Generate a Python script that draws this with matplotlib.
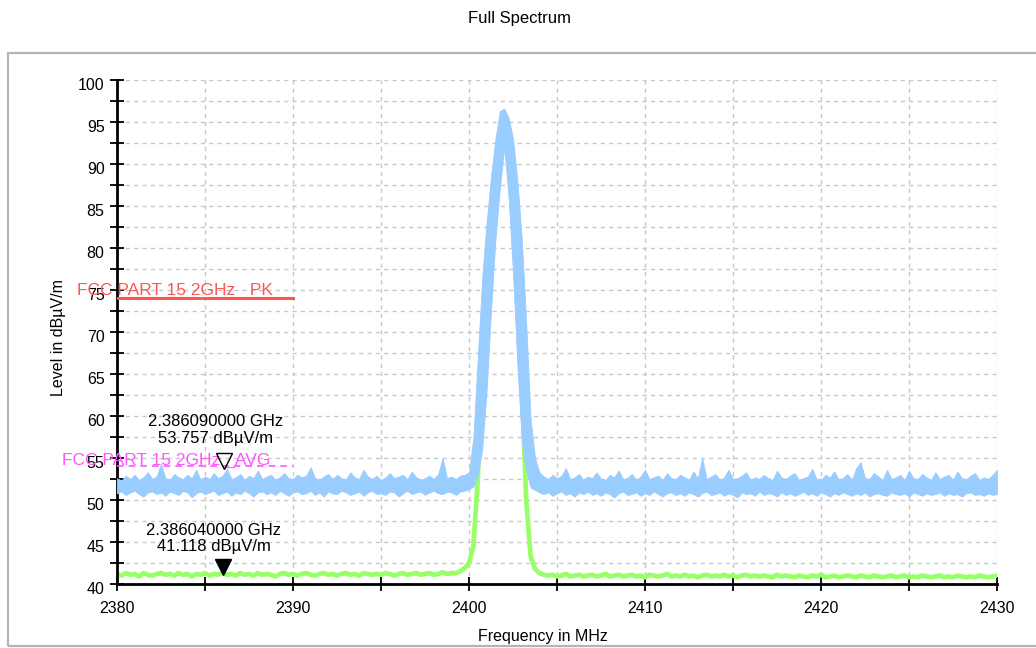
import matplotlib
matplotlib.use('Agg')
import matplotlib.pyplot as plt
import matplotlib.patches as patches
from matplotlib.ticker import MultipleLocator
from matplotlib.transforms import offset_copy, ScaledTranslation
import numpy as np

plt.rcParams['font.family'] = ['Liberation Sans', 'DejaVu Sans']

# peak detector trace (upper / lower edge of the noisy band), dBuV/m, 0.25 MHz steps
blue_hi = [
    52.6, 52.3, 52.9, 52.5, 53.0, 52.4, 52.7, 53.3, 52.5, 52.8,
    54.3, 52.6, 52.4, 53.1, 52.7, 52.5, 53.0, 52.6, 53.6, 52.4,
    52.8, 52.5, 53.2, 52.6, 52.9, 53.7, 52.5, 52.7, 53.1, 52.4,
    52.9, 52.6, 53.5, 52.5, 52.8, 53.0, 52.4, 52.7, 53.2, 52.6,
    52.5, 53.0, 52.7, 52.9, 53.9, 52.6, 52.4, 52.8, 53.1, 52.5,
    53.0, 52.6, 52.4, 53.3, 52.7, 52.5, 53.6, 52.8, 52.5, 52.9,
    52.4, 52.7, 53.2, 52.6, 52.8, 53.0, 52.5, 53.4, 52.7, 52.4,
    52.6, 52.9, 52.5, 53.1, 55.0, 52.6, 52.8, 52.5, 52.9, 53.0,
    53.3, 57.5, 67.0, 76.5, 83.0, 88.5, 93.0, 96.3, 96.6, 95.5,
    93.0, 88.0, 81.0, 71.0, 59.6, 55.0, 53.3,
    52.8, 52.5, 53.0, 52.6, 52.9, 53.8, 52.5, 52.7, 53.1, 52.4,
    52.8, 52.6, 53.3, 52.5, 52.4, 53.0, 52.7, 53.5, 52.5, 52.6,
    53.1, 52.4, 52.8, 53.6, 52.5, 52.7, 52.9, 52.4, 53.2, 52.6,
    52.5, 53.0, 52.7, 52.4, 53.4, 52.6, 55.0, 52.5, 52.8, 53.1,
    52.4, 52.7, 53.6, 52.5, 52.6, 52.9, 53.3, 52.4, 52.7, 52.5,
    53.0, 52.6, 52.4, 53.5, 52.7, 52.5, 52.9, 53.2, 52.4, 52.6,
    52.8, 53.7, 52.5, 52.4, 53.0, 52.7, 53.4, 52.5, 52.6, 53.1,
    52.4, 53.8, 54.5, 52.6, 52.5, 53.2, 52.8, 52.4, 53.6, 52.5,
    52.7, 53.0, 52.4, 53.5, 52.6, 52.5, 53.1, 52.7, 52.4, 53.3,
    52.5, 52.8, 53.0, 52.4, 53.4, 52.6, 52.5, 52.9, 53.2, 52.4,
    52.7, 52.5, 53.0, 53.6,
]
blue_lo = [
    50.8, 51.0, 50.6, 50.9, 51.1, 50.7, 50.4, 50.9, 51.0, 50.7,
    50.9, 50.5, 51.0, 50.8, 50.6, 51.1, 50.9, 50.3, 50.8, 51.0,
    50.7, 50.9, 51.1, 50.6, 50.8, 51.0, 50.5, 50.9, 50.7, 51.1,
    50.8, 50.4, 50.9, 51.0, 50.7, 50.9, 50.6, 51.1, 50.8, 50.5,
    50.9, 51.0, 50.7, 50.8, 51.1, 50.6, 50.9, 50.4, 51.0, 50.8,
    50.7, 51.1, 50.9, 50.6, 50.8, 51.0, 50.5, 50.9, 51.1, 50.7,
    50.8, 50.6, 51.0, 50.9, 50.4, 50.8, 51.1, 50.7, 50.9, 51.0,
    50.6, 50.9, 51.1, 50.8, 50.7, 51.0, 50.9, 50.6, 51.0, 51.1,
    51.3, 51.6, 53.0, 56.0, 63.0, 72.5, 81.0, 87.0, 92.0, 86.0,
    77.0, 66.0, 57.0, 53.5, 51.5, 51.2, 50.9,
    50.7, 50.9, 50.5, 50.8, 51.0, 50.6, 50.8, 50.4, 50.9, 50.7,
    51.0, 50.6, 50.8, 50.5, 50.9, 50.7, 50.3, 50.8, 51.0, 50.6,
    50.7, 50.9, 50.5, 50.8, 50.6, 51.0, 50.7, 50.4, 50.8, 50.9,
    50.6, 50.8, 50.5, 50.9, 50.7, 50.4, 50.8, 51.0, 50.6, 50.7,
    50.9, 50.5, 50.8, 50.6, 50.3, 50.9, 50.7, 50.8, 50.5, 51.0,
    50.6, 50.8, 50.7, 50.4, 50.9, 50.6, 50.8, 50.5, 50.7, 51.0,
    50.6, 50.8, 50.5, 50.9, 50.7, 50.4, 50.8, 50.6, 50.9, 50.7,
    50.5, 50.8, 50.6, 50.9, 50.4, 50.7, 50.8, 50.6, 50.5, 50.9,
    50.7, 50.6, 50.8, 50.4, 50.9, 50.7, 50.5, 50.8, 50.6, 50.7,
    50.9, 50.5, 50.8, 50.6, 50.7, 50.4, 50.8, 50.9, 50.6, 50.7,
    50.5, 50.8, 50.6, 50.7,
]
# average detector trace
green = [
    41.2, 41.0, 41.3, 41.1, 41.2, 40.9, 41.3, 41.1, 41.0, 41.2,
    41.3, 41.1, 41.2, 41.0, 41.3, 41.1, 41.2, 40.9, 41.2, 41.1,
    41.3, 41.0, 41.2, 41.1, 41.4, 41.1, 41.2, 41.0, 41.3, 41.1,
    41.2, 41.0, 41.3, 41.1, 41.2, 41.1, 40.9, 41.2, 41.3, 41.1,
    41.2, 41.0, 41.2, 41.3, 41.1, 41.0, 41.2, 41.3, 41.1, 41.2,
    41.0, 41.2, 41.3, 41.1, 41.2, 41.0, 41.3, 41.2, 41.1, 41.2,
    41.1, 41.3, 41.2, 41.0, 41.2, 41.3, 41.1, 41.2, 41.3, 41.1,
    41.2, 41.3, 41.1, 41.2, 41.4, 41.2, 41.3,
    41.3, 41.5, 41.9, 42.5, 44.5, 52.5, 65.0, 75.0, 83.0, 89.5,
    93.5, 94.3, 91.5, 86.0, 77.0, 64.0, 50.0, 43.3, 41.8, 41.3,
    41.1, 41.0, 41.1, 40.9, 41.0, 41.2, 40.9, 41.0, 41.1, 40.9,
    41.0, 41.1, 40.9, 41.0, 41.2, 40.9, 41.0, 41.1, 40.9, 41.0,
    41.1, 40.9, 41.0, 40.8, 41.1, 41.0, 40.9, 41.0, 41.2, 40.9,
    41.0, 40.9, 41.1, 40.9, 41.0, 40.8, 41.0, 41.1, 40.9, 41.0,
    40.9, 41.1, 40.9, 41.0, 40.8, 41.0, 41.1, 40.9, 41.0, 40.9,
    41.0, 40.9, 40.8, 41.1, 40.9, 41.0, 40.9, 40.8, 41.0, 40.9,
    40.8, 41.0, 40.9, 41.1, 40.8, 40.9, 41.0, 40.8, 40.9, 41.0,
    40.9, 40.8, 41.0, 40.9, 40.8, 41.0, 40.9, 40.8, 40.9, 41.0,
    40.8, 40.9, 41.0, 40.8, 40.9, 40.8, 41.0, 40.9, 40.8, 40.9,
    41.0, 40.8, 40.9, 40.8, 41.0, 40.9, 40.8, 40.9, 40.8, 41.0,
    40.9, 40.8, 40.9, 41.0,
]
freq_start, freq_stop = 2380, 2430
freq = np.linspace(freq_start, freq_stop, len(green))

# limit lines
pk_freq = [2380, 2390]
pk_level = 74
avg_freq = [2380, 2390]
avg_level = 54

# markers
mk1_freq, mk1_level = 2386.09, 53.757
mk2_freq, mk2_level = 2386.04, 41.118

W, H = 1036, 648
fig = plt.figure(figsize=(W / 100, H / 100), dpi=100)
ax = fig.add_axes([117 / W, 1 - 584 / H, 880 / W, 504 / H])

# outer gray frame
frame = patches.Rectangle((8 / W, 1 - 646 / H), 1.2, (646 - 53) / H, transform=fig.transFigure,
                          fill=False, edgecolor='#b4b4b4', lw=1.6, clip_on=False)
fig.add_artist(frame)

ax.plot(freq, green, color='#99ff66', lw=3.4, zorder=2)
ax.fill_between(freq, blue_lo, blue_hi, color='#99ccff', edgecolor='#99ccff', lw=0.6, zorder=3)

ax.plot(pk_freq, [pk_level] * 2, color='#ff5555', lw=2.2, zorder=4)
ax.plot(avg_freq, [avg_level] * 2, color='#ff55ff', lw=1.2, ls=(0, (4, 3)), zorder=4)
ax.text(2377.7, 74.9, 'FCC PART 15 2GHz _PK', color='#ff5555', fontsize=12.5,
        ha='left', va='center', clip_on=False, zorder=5)
ax.text(2376.9, 54.7, 'FCC PART 15 2GHz _AVG', color='#ff55ff', fontsize=12.5,
        ha='left', va='center', clip_on=False, zorder=5)

ms = 11
up = offset_copy(ax.transData, fig=fig, x=0, y=ms / 2, units='points')
ax.plot(mk1_freq, mk1_level, marker='v', ms=ms, mfc='none', mec='black', mew=1.0,
        transform=up, zorder=6)
ax.plot(mk2_freq, mk2_level, marker='v', ms=ms + 1, color='black', transform=up, zorder=6)
ax.annotate('%.9f GHz\n%.3f dBµV/m' % (mk1_freq / 1000, mk1_level), xy=(mk1_freq, mk1_level),
            xytext=(-6.5, 16.5), textcoords='offset points', ha='center', va='bottom',
            fontsize=12, linespacing=1.1, zorder=6)
ax.annotate('%.9f GHz\n%.3f dBµV/m' % (mk2_freq / 1000, mk2_level), xy=(mk2_freq, mk2_level),
            xytext=(-7, 14.5), textcoords='offset points', ha='center', va='bottom',
            fontsize=12, linespacing=1.1, zorder=6)

ax.set_xlim(freq_start, freq_stop)
ax.set_ylim(40, 100)
ax.xaxis.set_major_locator(MultipleLocator(10))
ax.xaxis.set_minor_locator(MultipleLocator(5))
ax.yaxis.set_major_locator(MultipleLocator(5))
ax.yaxis.set_minor_locator(MultipleLocator(2.5))
ax.tick_params(which='both', direction='inout', length=10, width=1.3, color='black')
ax.tick_params(axis='both', labelsize=11.5)
ax.tick_params(axis='x', pad=7)
ax.tick_params(axis='y', pad=4)
ax.grid(which='both', color='#c8c8c8', ls=(0, (3, 3)), lw=1)
ax.set_axisbelow(True)
for s in ['top', 'right']:
    ax.spines[s].set_visible(False)
for s in ['left', 'bottom']:
    ax.spines[s].set_linewidth(2)

fig.canvas.draw()
for lbl in ax.get_yticklabels():
    lbl.set_transform(lbl.get_transform() + ScaledTranslation(0, -4 / 100, fig.dpi_scale_trans))

fig.text(519 / W, 1 - 19 / H, 'Full Spectrum', ha='center', va='center', fontsize=12)
fig.text(58 / W, 1 - 338 / H, 'Level in dBµV/m', rotation=90, ha='center', va='center', fontsize=11.5)
fig.text(543 / W, 1 - 637 / H, 'Frequency in MHz', ha='center', va='center', fontsize=11.5)

fig.savefig('out.png', dpi=100)
